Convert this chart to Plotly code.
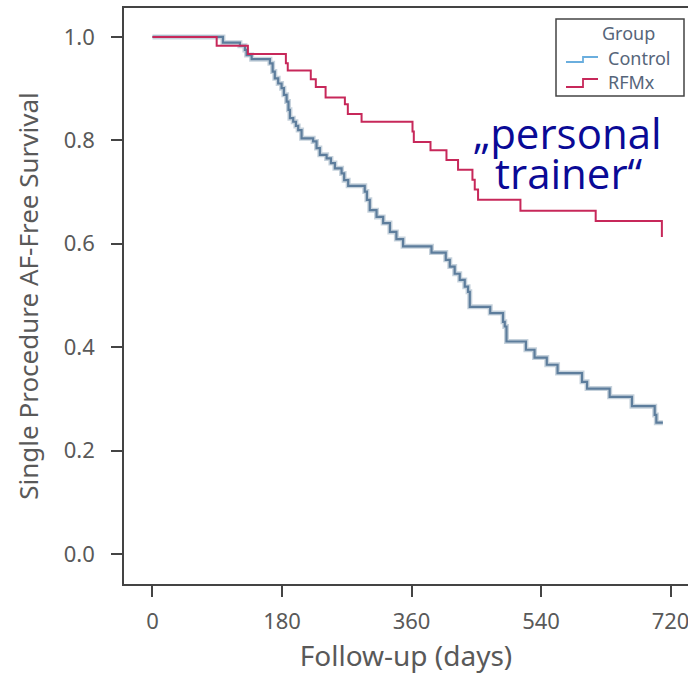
import plotly.graph_objects as go

# Kaplan-Meier step data (days, survival)
ctrl_days = [0, 97.9, 121.5, 128.5, 130.8, 137.8, 163.2, 167, 170, 174.7, 179.4, 182.6, 186.4, 189, 191,
             195.6, 199.3, 202.5, 207.2, 223.3, 228, 232.6, 242, 248, 253.5, 262.8, 266.4, 272,
             295, 298, 302, 311.4, 320.6, 330, 339, 348.3, 387.8, 407.6, 413.2, 420, 427, 434, 438.6,
             441, 469.4, 487.2, 489.6, 492, 519, 531, 548, 563, 597, 604, 635.4, 666.4, 698, 700.3, 709.4]
ctrl_surv = [1.0, 0.989, 0.983, 0.975, 0.965, 0.957, 0.949, 0.933, 0.920, 0.910, 0.901, 0.888, 0.875, 0.859, 0.843,
             0.836, 0.828, 0.820, 0.804, 0.798, 0.785, 0.772, 0.765, 0.756, 0.746, 0.736, 0.723, 0.712,
             0.701, 0.685, 0.665, 0.652, 0.640, 0.623, 0.609, 0.595, 0.583, 0.569, 0.556, 0.542, 0.530, 0.517, 0.507,
             0.478, 0.466, 0.449, 0.440, 0.411, 0.395, 0.380, 0.366, 0.350, 0.333, 0.320, 0.304, 0.286, 0.269, 0.254, 0.254]

rfmx_days = [0, 89.2, 132.6, 185.4, 188, 220, 227, 240.6, 267.4, 271.5, 290.6, 361.4, 363.2, 386.4, 408.6,
             424.7, 444.7, 447.9, 452.5, 511.4, 616, 708]
rfmx_surv = [1.0, 0.983, 0.967, 0.949, 0.935, 0.918, 0.903, 0.883, 0.870, 0.851, 0.836, 0.817, 0.797, 0.781, 0.762,
             0.743, 0.724, 0.705, 0.685, 0.664, 0.644, 0.613]

x_ticks = [0, 180, 360, 540, 720]
y_ticks = [0.0, 0.2, 0.4, 0.6, 0.8, 1.0]
y_tick_text = ["0.0", "0.2", "0.4", "0.6", "0.8", "1.0"]

CTRL_COLOR = "#5d7d9c"
RFMX_COLOR = "#c7285a"
GREY = "#595959"
FONT = "Noto Sans"

fig = go.Figure()
# soft halo under the control line
fig.add_trace(go.Scatter(x=ctrl_days, y=ctrl_surv, mode="lines", line=dict(shape="hv", color="rgba(93,125,156,0.35)", width=5),
                         hoverinfo="skip", showlegend=False))
fig.add_trace(go.Scatter(x=ctrl_days, y=ctrl_surv, mode="lines", name="Control",
                         line=dict(shape="hv", color=CTRL_COLOR, width=2.2), showlegend=False))
fig.add_trace(go.Scatter(x=rfmx_days, y=rfmx_surv, mode="lines", name="RFMx",
                         line=dict(shape="hv", color=RFMX_COLOR, width=2), showlegend=False))

fig.update_layout(
    width=688, height=679,
    margin=dict(l=124, r=0, t=8, b=95),
    plot_bgcolor="white", paper_bgcolor="white",
    font=dict(family=FONT, color=GREY),
    xaxis=dict(range=[-39.6, 744.3], tickvals=x_ticks, ticks="outside", ticklen=11, tickwidth=1.5,
               tickcolor="#444", showline=True, linecolor="#444", linewidth=1.5, mirror=True,
               showgrid=False, zeroline=False, tickfont=dict(size=22, color=GREY), ticklabelstandoff=6,
               ticklabeloverflow="allow",
               title=dict(text="Follow-up (days)", font=dict(size=28, color=GREY), standoff=12)),
    yaxis=dict(range=[-0.058, 1.056], tickvals=y_ticks, ticktext=y_tick_text, ticks="outside", ticklen=11,
               tickwidth=1.5, tickcolor="#444", showline=True, linecolor="#444", linewidth=1.5,
               showgrid=False, zeroline=False, tickfont=dict(size=22, color=GREY), ticklabelstandoff=12,
               title=dict(text="Single Procedure AF-Free Survival", font=dict(size=26, color=GREY), standoff=18)),
)

def px_x(p):
    return (p - 124) / 564
def px_y(p):
    return (584 - p) / 576

# custom legend box
fig.add_shape(type="rect", xref="paper", yref="paper", x0=px_x(556), x1=px_x(684),
              y0=px_y(96), y1=px_y(19), line=dict(color="#444", width=1.5), fillcolor="white", layer="below")
fig.add_shape(type="path", xref="paper", yref="paper",
              path=f"M {px_x(566)},{px_y(62)} L {px_x(583)},{px_y(62)} L {px_x(583)},{px_y(57)} L {px_x(598)},{px_y(57)}",
              line=dict(color="#6aaede", width=1.8))
fig.add_shape(type="path", xref="paper", yref="paper",
              path=f"M {px_x(566)},{px_y(87)} L {px_x(583)},{px_y(87)} L {px_x(583)},{px_y(79)} L {px_x(598)},{px_y(79)}",
              line=dict(color=RFMX_COLOR, width=1.8))
LEG_COLOR = "#56657a"
fig.add_annotation(xref="paper", yref="paper", x=px_x(628), y=px_y(33), text="Group", showarrow=False,
                   font=dict(size=18, color=LEG_COLOR), xanchor="center", yanchor="middle")
fig.add_annotation(xref="paper", yref="paper", x=px_x(606), y=px_y(58), text="Control", showarrow=False,
                   font=dict(size=18, color=LEG_COLOR), xanchor="left", yanchor="middle")
fig.add_annotation(xref="paper", yref="paper", x=px_x(606), y=px_y(82), text="RFMx", showarrow=False,
                   font=dict(size=18, color=LEG_COLOR), xanchor="left", yanchor="middle")

# overlay note
fig.add_annotation(xref="paper", yref="paper", x=px_x(567), y=px_y(133), text="„personal", showarrow=False,
                   font=dict(size=42, color="#0a0a96", family="Open Sans"), xanchor="center", yanchor="middle")
fig.add_annotation(xref="paper", yref="paper", x=px_x(569), y=px_y(172), text="trainer“", showarrow=False,
                   font=dict(size=42, color="#0a0a96", family="Open Sans"), xanchor="center", yanchor="middle")

fig.write_html("out.html")
